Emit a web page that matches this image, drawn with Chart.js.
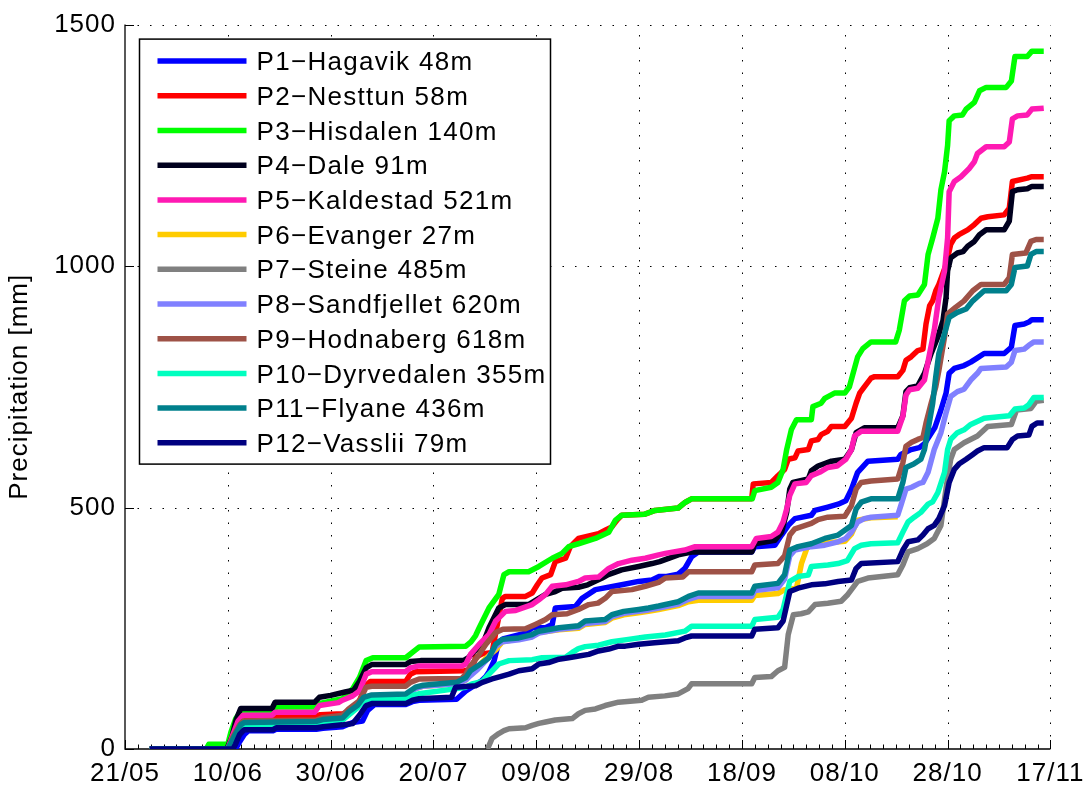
<!DOCTYPE html>
<html>
<head>
<meta charset="utf-8">
<script src="https://cdn.jsdelivr.net/npm/chart.js@4.4.1/dist/chart.umd.min.js"></script>
<style>
  html, body { margin: 0; padding: 0; background: #fff; }
  #wrap { width: 1091px; height: 790px; }
</style>
</head>
<body>
<div id="wrap"><canvas id="chart" width="1091" height="790"></canvas></div>
<script>
// Date tick labels, one every 20 days starting 21/05
const dateLabels = ['21/05', '10/06', '30/06', '20/07', '09/08', '29/08', '18/09', '08/10', '28/10', '17/11'];
const dayStep = 20;
const yTickValues = [0, 500, 1000, 1500];

const stationNames = [
  'P1\u2212Hagavik 48m', 'P2\u2212Nesttun 58m', 'P3\u2212Hisdalen 140m', 'P4\u2212Dale 91m',
  'P5\u2212Kaldestad 521m', 'P6\u2212Evanger 27m', 'P7\u2212Steine 485m', 'P8\u2212Sandfjellet 620m',
  'P9\u2212Hodnaberg 618m', 'P10\u2212Dyrvedalen 355m', 'P11\u2212Flyane 436m', 'P12\u2212Vasslii 79m'
];
const stationColors = [
  '#0000ff', '#ff0000', '#00ff00', '#00001e', '#ff1ab3', '#ffcc00',
  '#808080', '#8080ff', '#9e5247', '#00ffbf', '#00808c', '#000080'
];

// Cumulative precipitation: [days after 21/05, mm]
const p1Hagavik = [[4.8,0],[21.5,0],[22.3,15],[23.2,30],[24,38],[28.8,38],[29.4,41],[37.2,41],[38.5,43],[42.3,46],[44.3,55],[46.2,58],[47.2,80],[48.5,92],[54.6,92],[55.9,98],[57.2,101],[64.5,103],[66.3,120],[69.2,140],[70.2,150],[70.8,160],[71.8,183],[72.7,222],[73.5,228],[77.9,240],[79.2,251],[81.8,251],[83.1,258],[83.7,292],[87.6,295],[88.9,312],[91.5,330],[96.6,340],[99.9,347],[102.5,350],[103.8,357],[105.1,357],[107.6,362],[108.9,374],[110.2,398],[111.5,408],[121.9,408],[122.5,419],[126.4,422],[127.7,443],[129,463],[130.3,477],[133.5,484],[134.2,494],[136.7,501],[138.7,507],[140.2,514],[141.3,538],[142.5,573],[144.5,596],[150.3,600],[150.9,610],[152.9,620],[154.5,624],[155.5,632],[157.5,665],[158.7,702],[159.7,737],[160.3,778],[161.3,788],[163.2,794],[164.5,801],[165.8,810],[167.1,819],[171,819],[172.4,832],[173.1,877],[174.9,880],[175.8,884],[176.4,889],[178.7,889]];
const p2Nesttun = [[4.8,0],[19.8,0],[20.8,30],[21.8,58],[22.6,67],[37.2,68],[38,71],[42.3,73],[44.3,80],[45.6,100],[46.9,132],[47.7,140],[54.6,140],[55.5,155],[56.5,160],[66,162],[67.5,165],[68.2,190],[69.5,197],[71.4,200],[72.1,240],[73.4,312],[74,316],[77.9,316],[79.2,323],[80.2,340],[81.1,354],[82.8,361],[83.7,388],[85.7,395],[86.6,419],[88.2,436],[92.1,446],[93.4,453],[94.7,460],[95.7,474],[96.6,484],[101,486],[103.1,494],[107.6,499],[109,511],[110.2,518],[121.9,518],[122.2,549],[125.7,552],[127,566],[128.3,579],[129,600],[130.3,603],[130.9,617],[132.9,620],[133.5,638],[134.8,641],[135.4,651],[136.7,658],[137.4,668],[140,668],[141.3,685],[142.2,716],[142.9,737],[143.8,750],[145.1,768],[145.8,771],[150.3,771],[151.3,784],[151.9,805],[152.9,812],[154.2,825],[155.2,828],[155.8,880],[156.5,918],[157.1,928],[157.7,949],[158.3,962],[159.7,1003],[160.6,1045],[161.3,1058],[162.2,1065],[163.9,1075],[165.2,1086],[166.5,1099],[167.8,1102],[171,1106],[172,1120],[172.6,1175],[175.5,1182],[176.4,1185],[178.7,1185]];
const p3Hisdalen = [[4.8,0],[15.8,0],[16.3,10],[20,10],[20.6,35],[21.5,62],[22.3,75],[28.8,75],[29.4,87],[37.2,87],[38.1,95],[42.3,104],[44.3,125],[45.6,148],[46.9,183],[48.2,189],[54.6,189],[55.9,200],[57.2,211],[66.3,213],[67.3,222],[68.2,235],[68.9,251],[70.8,292],[72.7,320],[73.7,361],[74.7,367],[78.5,367],[80.5,378],[83.1,395],[85,405],[86.3,419],[88.2,425],[91.5,436],[94.1,449],[95.4,474],[96.6,484],[101,486],[103.1,494],[107.6,499],[109,511],[110.2,518],[122,518],[122.5,535],[125.7,542],[127,552],[128,579],[128.7,620],[129.6,661],[130.6,682],[133.5,682],[133.8,709],[135.4,716],[136.1,726],[138,737],[140,737],[140.9,750],[142.5,812],[143.5,829],[145.1,843],[149.9,843],[150.6,867],[151.6,928],[152.6,938],[154.2,940],[155.5,962],[156.2,1024],[157.1,1058],[158.1,1099],[158.7,1158],[159.4,1195],[160,1250],[160.3,1301],[161.3,1311],[162.9,1313],[163.6,1325],[165.2,1339],[166.2,1363],[167.5,1370],[171.4,1370],[172.4,1383],[173.1,1434],[175.5,1434],[176.4,1445],[178.7,1445]];
const p4Dale = [[4.8,0],[19.8,0],[20.8,25],[21.6,60],[22.5,84],[28.6,84],[29.2,97],[36.9,97],[37.8,107],[40,111],[42.8,118],[44.5,122],[45.6,140],[46.9,168],[48,175],[54.6,175],[55.5,181],[57.5,183],[66,184],[66.8,189],[68,203],[69.5,215],[70.8,251],[72.7,292],[74,299],[78.5,299],[80.5,312],[81.8,320],[83.7,326],[85,333],[88.2,335],[90,340],[92.8,354],[94,361],[96.6,371],[99.9,378],[102.5,384],[104,388],[107.6,402],[110.2,408],[121.9,408],[122.5,425],[126.4,432],[127.7,449],[128.7,490],[129.3,538],[129.9,552],[132.9,559],[133.5,576],[134.8,586],[137.4,596],[140,600],[141.3,620],[142.2,655],[143.8,665],[150.3,665],[151.3,690],[151.9,740],[152.6,748],[154.2,752],[155.5,778],[156.8,819],[158.1,853],[159.1,887],[159.7,935],[160,990],[160.6,1017],[161.9,1027],[163,1030],[163.9,1041],[165.2,1051],[166.2,1065],[167.5,1075],[171,1075],[172,1093],[172.6,1154],[173.6,1158],[175.5,1160],[176.4,1165],[178.7,1165]];
const p5Kaldestad = [[4.8,0],[20,0],[21,30],[22,58],[23,70],[28.6,70],[29.2,76],[36.9,76],[37.8,90],[41.5,96],[42.3,101],[44.3,110],[45.6,120],[46.9,155],[48,160],[54.6,160],[55.5,168],[57.2,172],[65.5,172],[66.3,176],[67.2,196],[68.9,217],[70.8,237],[72.1,265],[74,285],[76,287],[79.2,299],[80.5,309],[81.8,320],[83.1,337],[85.7,340],[88.2,347],[89.5,354],[92.1,356],[94.1,374],[96,384],[98.6,391],[101.2,395],[103.8,402],[105.1,405],[108.9,412],[110.9,419],[121.9,419],[122.8,436],[125.7,440],[127,449],[128,470],[128.7,497],[129.3,525],[130.3,549],[132.5,552],[133.5,566],[135.1,573],[136.7,583],[138.5,586],[140.2,600],[141.3,620],[141.9,648],[143.2,658],[150.3,658],[151.3,689],[151.9,733],[152.6,744],[154.2,747],[155.5,764],[156.5,819],[157.4,867],[158.3,935],[159.4,990],[160,1058],[160.3,1154],[161.3,1175],[162.6,1185],[164.2,1202],[165.2,1216],[165.8,1233],[167.5,1247],[171,1247],[172,1257],[172.6,1305],[173.6,1311],[175.5,1313],[176.4,1325],[178.7,1327]];
const p6Evanger = [[4.8,0],[20,0],[21.2,24],[22.5,48],[23.2,53],[37.2,55],[38.5,59],[42.3,62],[43.5,74],[45.2,87],[46.4,104],[48,110],[54.6,112],[56.5,125],[58,130],[64.5,135],[66.3,143],[67.2,155],[68.6,170],[70.4,190],[72.1,205],[73.4,222],[76.6,228],[79.2,234],[80.5,241],[84.4,247],[88.2,250],[89.5,258],[93.4,262],[94.7,271],[97,278],[99.9,282],[101.8,285],[103.8,289],[107.6,297],[109.6,305],[111.5,308],[121.9,308],[122.5,318],[127,322],[128.3,330],[130.6,333],[131.6,385],[132.6,415],[133.5,424],[140,430],[141.3,445],[142.5,474],[145.1,479],[150.3,481]];
const p7Steine = [[70.5,0],[71.4,22],[72.7,32],[73.7,38],[74.7,42],[77.9,44],[79.2,49],[80.5,53],[81.8,56],[83.7,60],[87,63],[88.2,73],[89.5,80],[91.5,83],[93.4,90],[96,97],[100.5,101],[101.8,107],[105,110],[107.6,114],[109.5,125],[110.2,135],[121.9,135],[122.5,148],[125.7,150],[127,162],[128.3,169],[129,237],[130,278],[131.5,280],[132.9,284],[134.2,299],[136.7,302],[139.3,306],[140.6,320],[142.5,347],[144.5,354],[150.3,361],[151.3,381],[152.3,408],[154.2,415],[156,425],[157.4,436],[158.7,463],[159.7,540],[160.6,600],[161.3,620],[163.2,634],[165.8,648],[167.8,668],[172.4,672],[173.4,702],[176.2,705],[177.2,720],[178.7,722]];
const p8Sandfjellet = [[4.8,0],[20,0],[21.2,24],[22.5,48],[23.2,53],[37.2,55],[38.5,59],[42.3,62],[43.5,74],[45.2,87],[46.4,104],[48,110],[54.6,112],[56.5,125],[58,130],[64.5,135],[66.3,143],[67.2,152],[68.6,165],[70.4,185],[72.1,212],[73.4,222],[76.6,226],[79.2,232],[80.5,240],[84.4,248],[88.2,252],[89.5,260],[93.4,264],[94.7,274],[97,281],[99.9,285],[101.8,288],[103.8,292],[107.6,300],[109.6,310],[111.5,316],[121.9,316],[122.5,328],[127,334],[128.3,352],[129.3,400],[130.3,412],[133.5,419],[136.1,422],[138.7,429],[140.2,436],[141.3,449],[142.5,470],[143.8,477],[145.1,480],[150.3,484],[150.9,504],[151.9,538],[153,542],[154.5,550],[155.2,552],[156.2,573],[157.4,620],[158.7,655],[159.7,696],[160.6,730],[161.9,740],[163.2,745],[164.5,764],[165.8,778],[166.5,788],[171.4,791],[172.4,801],[173.1,825],[174.9,828],[175.8,836],[176.8,843],[178.7,843]];
const p9Hodnaberg = [[4.8,0],[20,0],[21,25],[22.3,50],[23,58],[37.2,60],[38.5,65],[42.3,70],[43.5,83],[45.6,100],[46.9,128],[48,130],[54.6,130],[55.5,138],[57.2,145],[65.5,146],[66.3,155],[67.2,172],[68.5,190],[70.2,217],[72.1,241],[73.5,248],[77.9,249],[79.8,258],[81.8,268],[83.1,278],[86,280],[88.2,289],[90.2,299],[92,302],[93.4,312],[94.7,326],[98.6,330],[101.2,337],[103.8,345],[105.1,354],[108.5,356],[109.6,367],[121.9,367],[122.5,381],[127,384],[128.3,400],[129.3,443],[130.3,456],[133.5,467],[134.8,475],[136.7,480],[140,482],[141.3,504],[142.2,538],[143.2,552],[145.1,555],[150.3,559],[151.3,593],[151.9,627],[153,635],[154.2,641],[155.2,645],[155.8,675],[156.8,716],[157.7,750],[158.3,784],[159.4,853],[160,901],[161.6,915],[163.2,928],[164.9,949],[166.5,962],[171,962],[172,976],[172.6,1024],[175.2,1027],[176.2,1051],[177.2,1055],[178.7,1055]];
const p10Dyrvedalen = [[4.8,0],[20,0],[21.2,22],[22.5,42],[23.2,47],[28.8,48],[29.4,52],[37.2,53],[38.5,56],[42.3,60],[43.5,70],[45.2,85],[46.4,100],[48,104],[54.6,104],[56.2,112],[57.5,115],[64.5,125],[66.3,128],[67.5,135],[69.5,140],[70.8,155],[72.7,176],[74.7,183],[79.2,185],[81.1,189],[85.7,190],[87,200],[88.2,208],[89.5,212],[92.1,215],[94.7,222],[97.9,227],[101.2,232],[105.1,236],[108.9,244],[110.2,254],[121.9,254],[122.5,268],[127,273],[128,289],[129.3,347],[130.9,357],[132.9,360],[133.5,378],[136.7,381],[138.7,384],[140.5,390],[141.9,415],[143.2,422],[145.1,425],[150.3,427],[151.3,449],[152.3,470],[153.5,480],[154.8,490],[156.2,507],[157.1,512],[158.1,531],[159.4,573],[160,620],[160.6,641],[161.9,655],[163.2,661],[164.5,672],[166.5,682],[167.1,685],[172,690],[173.1,704],[174.9,706],[175.8,713],[176.8,728],[178.7,728]];
const p11Flyane = [[4.8,0],[20,0],[21.2,25],[22.5,50],[23.2,55],[37.2,57],[38.5,61],[42.3,64],[43.5,77],[45.2,90],[46.4,107],[48,112],[54.6,114],[56.5,128],[58,132],[64.5,138],[66.3,148],[67.2,162],[69,175],[70.8,189],[72.1,217],[73.4,227],[76.6,230],[79.2,237],[80.5,244],[84.4,251],[88.2,255],[89.5,265],[93.4,268],[94.7,278],[97,285],[99.9,289],[101.8,292],[103.8,296],[107.6,305],[109.6,316],[111.5,323],[121.9,323],[122.5,337],[127,343],[128.3,361],[129.3,412],[130.9,419],[133.5,425],[136.1,436],[138.7,443],[141.3,463],[142.2,497],[143.2,511],[145.1,518],[150.3,518],[151.3,552],[151.9,583],[153.4,590],[154.8,600],[155.5,620],[156.2,661],[157.1,716],[157.7,771],[158.3,819],[159.4,860],[160.3,894],[161.9,904],[163.6,911],[164.9,928],[167.1,949],[171.4,949],[172.4,962],[173.1,997],[175.5,1000],[176.2,1024],[177.2,1030],[178.7,1030]];
const p12Vasslii = [[4.8,0],[21,0],[21.5,10],[22.3,30],[23.2,40],[28.8,40],[29.4,44],[37.2,44],[38.5,46],[42.3,50],[44.3,53],[45.6,70],[46.9,90],[48,94],[54.6,94],[55.9,101],[57.2,104],[63.5,107],[64.3,128],[68.2,131],[69.5,138],[71.4,145],[73,150],[74.7,155],[76.6,162],[79.2,166],[80.5,176],[82.4,179],[84.4,186],[86.3,189],[88,192],[90.2,196],[92.1,203],[94.1,207],[96,213],[97.3,213],[99.9,217],[103,220],[107.6,224],[108.9,230],[110.2,234],[121.9,234],[122.5,248],[127,251],[128,265],[129.3,326],[130.9,333],[133.5,340],[136.1,342],[138.7,347],[141.3,350],[142.2,374],[143.2,384],[150.3,388],[151.3,412],[152.3,429],[154.2,433],[155.2,443],[156.2,456],[157.4,463],[158.3,477],[159.4,504],[160.3,552],[161.3,579],[162.2,590],[163.6,600],[164.9,610],[165.8,617],[167.1,624],[171.6,624],[172.6,641],[173.6,648],[175.8,650],[176.4,668],[177.4,675],[178.7,675]];

const stationSeries = [p1Hagavik, p2Nesttun, p3Hisdalen, p4Dale, p5Kaldestad, p6Evanger,
  p7Steine, p8Sandfjellet, p9Hodnaberg, p10Dyrvedalen, p11Flyane, p12Vasslii];

const FONT = '"Liberation Sans", Arial, Helvetica, sans-serif';
const TEXT_SPACING = '1px';
const LINE_W = 5.5;

// Slightly loosened letter spacing for every label on the canvas
const textSpacing = {
  id: 'textSpacing',
  beforeDraw(chart) { chart.ctx.letterSpacing = TEXT_SPACING; }
};

// Dotted grid, axis lines and inward tick marks
const axesFrame = {
  id: 'axesFrame',
  beforeDatasetsDraw(chart) {
    const { ctx, chartArea: a, scales: { x, y } } = chart;
    ctx.save();
    ctx.strokeStyle = '#000';
    ctx.lineWidth = 1;
    ctx.setLineDash([1.5, 11]);
    dateLabels.forEach((_, k) => {
      if (k === 0) return;
      const px = Math.round(x.getPixelForValue(k * dayStep)) + 0.5;
      ctx.beginPath(); ctx.moveTo(px, a.bottom); ctx.lineTo(px, a.top); ctx.stroke();
    });
    yTickValues.forEach(v => {
      if (v === 0) return;
      const py = Math.round(y.getPixelForValue(v)) + 0.5;
      ctx.beginPath(); ctx.moveTo(a.left, py); ctx.lineTo(a.right, py); ctx.stroke();
    });
    ctx.setLineDash([]);
    ctx.lineWidth = 1.3;
    ctx.beginPath();
    ctx.moveTo(a.left, a.top); ctx.lineTo(a.left, a.bottom); ctx.lineTo(a.right, a.bottom);
    ctx.stroke();
    // x ticks: labelled every 20 days, minor every 2.5 days
    ctx.lineWidth = 1;
    const maxDay = (dateLabels.length - 1) * dayStep;
    for (let d = 0; d <= maxDay + 0.01; d += 2.5) {
      const px = Math.round(x.getPixelForValue(d)) + 0.5;
      const major = Math.abs(d / dayStep - Math.round(d / dayStep)) < 1e-6;
      ctx.beginPath(); ctx.moveTo(px, a.bottom); ctx.lineTo(px, a.bottom - (major ? 9 : 4.5)); ctx.stroke();
    }
    yTickValues.forEach(v => {
      const py = Math.round(y.getPixelForValue(v)) + 0.5;
      ctx.beginPath(); ctx.moveTo(a.left, py); ctx.lineTo(a.left + 9, py); ctx.stroke();
    });
    ctx.restore();
  }
};

// Boxed legend in the upper-left corner of the plot
const boxedLegend = {
  id: 'boxedLegend',
  afterDatasetsDraw(chart) {
    const { ctx, chartArea: a } = chart;
    const x0 = a.left + 14.5, y0 = a.top + 14.5, w = 411, h = 425, rowH = 34.7;
    ctx.save();
    ctx.fillStyle = '#fff';
    ctx.fillRect(x0, y0, w, h);
    ctx.strokeStyle = '#000';
    ctx.lineWidth = 1.5;
    ctx.strokeRect(x0, y0, w, h);
    ctx.font = '26px ' + FONT;
    ctx.letterSpacing = '1.3px';
    ctx.textBaseline = 'middle';
    chart.data.datasets.forEach((ds, i) => {
      const cy = y0 + 23 + i * rowH;
      ctx.strokeStyle = ds.borderColor;
      ctx.lineWidth = LINE_W;
      ctx.beginPath(); ctx.moveTo(x0 + 18, cy - 1); ctx.lineTo(x0 + 107, cy - 1); ctx.stroke();
      ctx.fillStyle = '#000';
      ctx.fillText(ds.label, x0 + 117, cy + 1);
    });
    ctx.restore();
  }
};

const datasets = stationSeries.map((pts, i) => ({
  label: stationNames[i],
  data: pts.map(([d, v]) => ({ x: d, y: v })),
  borderColor: stationColors[i],
  backgroundColor: stationColors[i],
  borderWidth: LINE_W,
  pointRadius: 0,
  pointHoverRadius: 0,
  tension: 0,
  fill: false,
  borderJoinStyle: 'round',
  borderCapStyle: 'butt',
  order: stationSeries.length - i
}));

new Chart(document.getElementById('chart'), {
  type: 'line',
  data: { datasets },
  options: {
    responsive: false,
    animation: false,
    events: [],
    layout: { padding: { top: 18, right: 38, bottom: 0, left: 0 } },
    plugins: { legend: { display: false }, tooltip: { enabled: false } },
    scales: {
      x: {
        type: 'linear',
        min: 0,
        max: (dateLabels.length - 1) * dayStep,
        afterFit: s => { s.height = 41; },
        afterBuildTicks: s => { s.ticks = dateLabels.map((_, k) => ({ value: k * dayStep })); },
        ticks: {
          autoSkip: false,
          maxRotation: 0,
          padding: 9,
          color: '#000',
          font: { family: FONT, size: 26 },
          callback: v => dateLabels[Math.round(v / dayStep)]
        },
        grid: { display: false, drawTicks: false },
        border: { display: false }
      },
      y: {
        min: 0,
        max: 1500,
        afterFit: s => { s.width = 125; },
        afterBuildTicks: s => { s.ticks = yTickValues.map(v => ({ value: v })); },
        ticks: {
          padding: 9,
          color: '#000',
          font: { family: FONT, size: 26 },
          callback: v => String(v)
        },
        title: {
          display: true,
          text: 'Precipitation [mm]',
          color: '#000',
          font: { family: FONT, size: 26 },
          padding: { top: 4, bottom: 0 }
        },
        grid: { display: false, drawTicks: false },
        border: { display: false }
      }
    }
  },
  plugins: [textSpacing, axesFrame, boxedLegend]
});
</script>
</body>
</html>
